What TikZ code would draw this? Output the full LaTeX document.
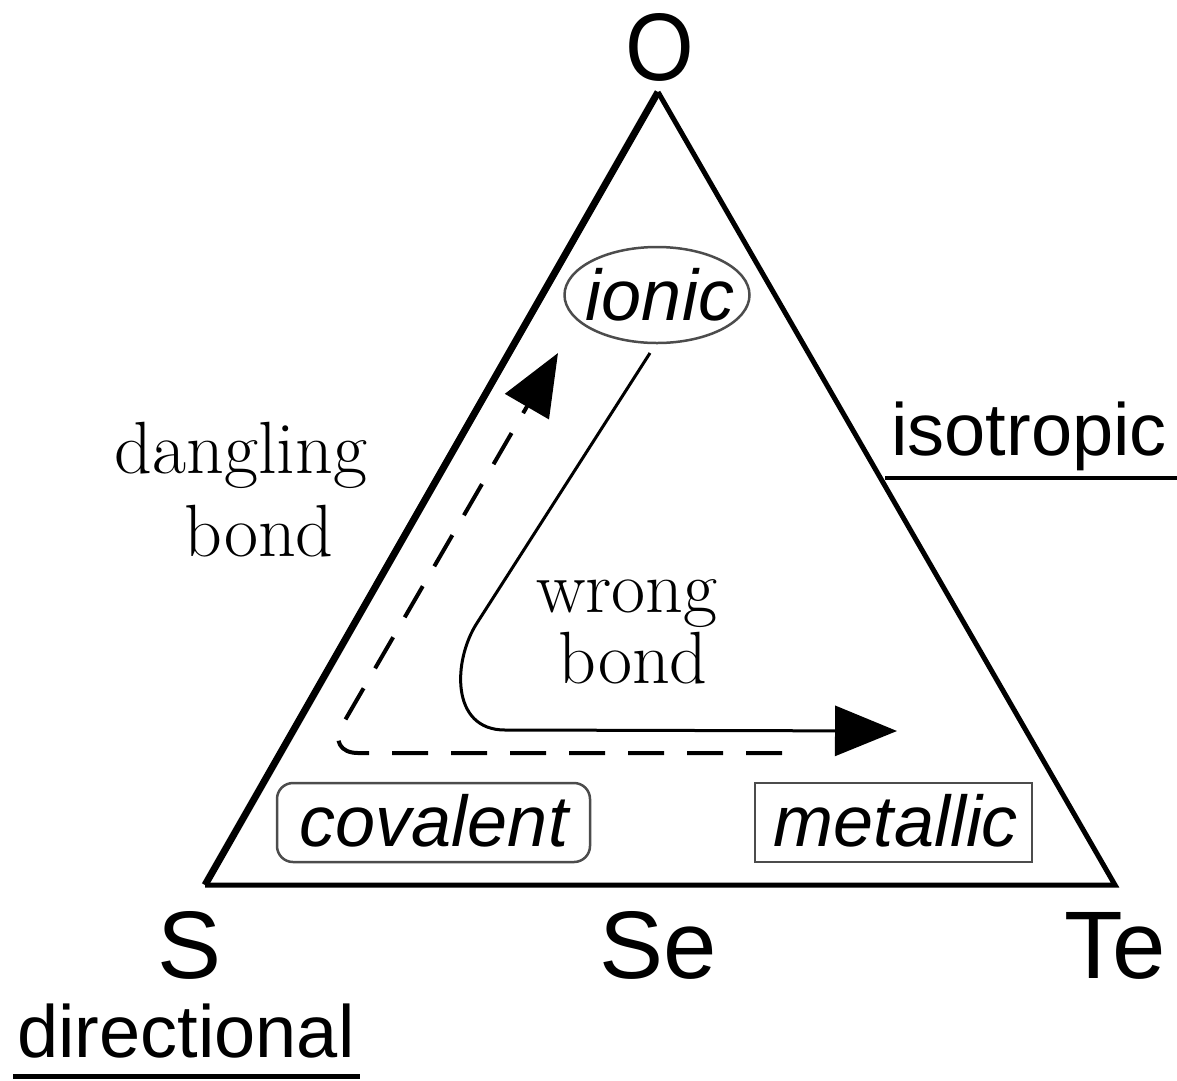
\documentclass[tikz,border=0pt]{standalone}
\usepackage{fontspec}
\newfontfamily\sans{Liberation Sans}
\usetikzlibrary{arrows.meta,shapes.geometric}
\tikzset{
  big/.style={font=\sans\fontsize{96}{110}\selectfont, inner sep=0pt, anchor=base},
  prop/.style={font=\sans\fontsize{74}{86}\selectfont, inner sep=0pt, anchor=base},
  serif/.style={font=\fontsize{74}{86}\selectfont, inner sep=0pt, anchor=base, text=black},
  kind/.style={font=\sans\itshape\fontsize{72}{84}\selectfont, inner sep=0pt, anchor=base},
  edge/.style={line width=5pt, line join=miter},
  frame/.style={draw=black!70, line width=2.5pt},
  tip/.style={-{Triangle[length=62pt,width=50pt]}},
}
\begin{document}
\begin{tikzpicture}[x=1pt,y=-1pt]
\useasboundingbox (0,0) rectangle (1177,1080);
% triangle corners
\coordinate (top) at (658,92);
\coordinate (left) at (205,885);
\coordinate (right) at (1115,885);
\draw[edge] (left) -- (right) -- (top);
\draw[line width=7pt] (top) -- (left);
% corner labels
\node[big, xscale=0.92] (O) at (660,80) {O};
\node[big] (S) at (190,978) {S};
\node[big] (Se) at (658,978) {Se};
\node[big] (Te) at (1115,978) {Te};
% property labels
\node[prop] (dir) at (186,1057) {directional};
\coordinate (du1) at (13,1076);
\coordinate (du2) at (360,1076);
\draw[line width=5pt] (du1) -- (du2);
\node[prop] (iso) at (1029,455) {isotropic};
\coordinate (iu1) at (885,478);
\coordinate (iu2) at (1177,478);
\draw[line width=4pt] (iu1) -- (iu2);
% serif labels
\node[serif] (dang) at (241,473) {dangling};
\node[serif] (dbond) at (259,556) {bond};
\node[serif] (wrong) at (627,612) {wrong};
\node[serif] (wbond) at (633,683) {bond};
% bond types
\node[frame, ellipse, minimum width=185pt, minimum height=96pt, inner sep=0pt] (ionicE) at (657,295) {};
\node[kind] (ionic) at (660,320) {ionic};
\node[frame, rounded corners=16pt, minimum width=313pt, minimum height=79pt] (covE) at (433.5,822.5) {};
\node[kind] (cov) at (434,846) {covalent};
\node[frame, minimum width=277pt, minimum height=79pt] (metE) at (893.5,822.5) {};
\node[kind] (met) at (896,846) {metallic};
% dashed arrow
\coordinate (d1) at (782,753);
\coordinate (dc) at (326,753);
\coordinate (d2) at (558,353);
\draw[line width=4pt, dash pattern=on 36pt off 23pt, rounded corners=32pt, tip] (d1) -- (dc) -- (d2);
% solid arrow
\coordinate (s1) at (650,353);
\coordinate (s2) at (477,623);
\coordinate (s3) at (505,730);
\coordinate (s4) at (897,731);
\draw[line width=3pt, tip] (s1) -- (s2) .. controls (453,660) and (450,730) .. (s3) -- (s4);
\end{tikzpicture}
\end{document}
